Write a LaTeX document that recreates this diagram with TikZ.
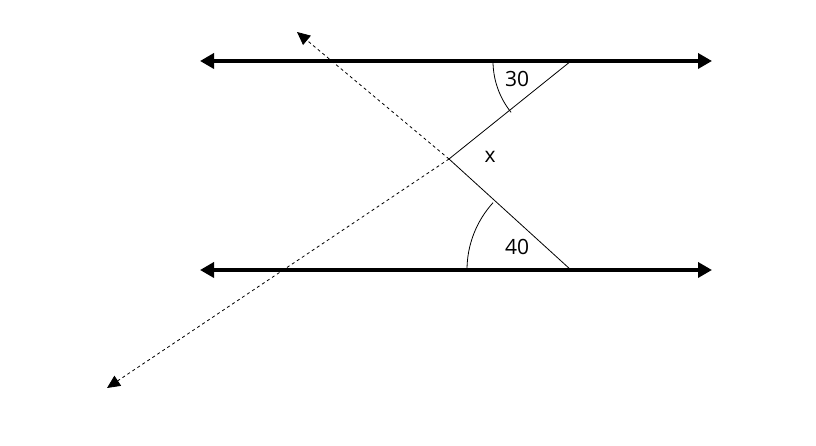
\documentclass[tikz,border=0pt]{standalone}
\usepackage{fontspec}
\setmainfont{Open Sans}
\usetikzlibrary{arrows.meta, positioning}

\begin{document}
\begin{tikzpicture}[x=1pt, y=1pt, >={Triangle[length=14pt, width=15pt]},
parallel/.style = {<->, line width = 4.8pt},
cut/.style = {line width = 0.8pt},
ext/.style = {->, line width = 0.8pt, dashed, >={Triangle[length=13pt, width=12pt]}},
lbl/.style = {font=\fontsize{21}{24}\selectfont}]

\useasboundingbox (0,0) rectangle (816,446);

% the two parallel lines
\coordinate (tl) at (200,385);
\coordinate (tr) at (712,385);
\coordinate (bl) at (200,176);
\coordinate (br) at (712,176);
\path (tl) edge [parallel] (tr);
\path (bl) edge [parallel] (br);

% the transversals
\coordinate (A) at (571,385);
\coordinate (B) at (571,176);
\coordinate (X) at (449,287);
\coordinate (lowend) at (107,58);
\coordinate (upend) at (297,414);
\path (A) edge [cut] (X);
\path (B) edge [cut] (X);
\path (X) edge [ext] (lowend);
\path (X) edge [ext] (upend);

% angle marks
\draw [cut] ([shift=(180:78pt)]A) arc (180:218.8:82pt);
\draw [cut] ([shift=(180:104pt)]B) arc (180:137.7:100pt);

\node [lbl] (thirty) at (517,367) {30};
\node [lbl] (ex) at (490,289) {x};
\node [lbl] (forty) at (517,199) {40};

\end{tikzpicture}
\end{document}
